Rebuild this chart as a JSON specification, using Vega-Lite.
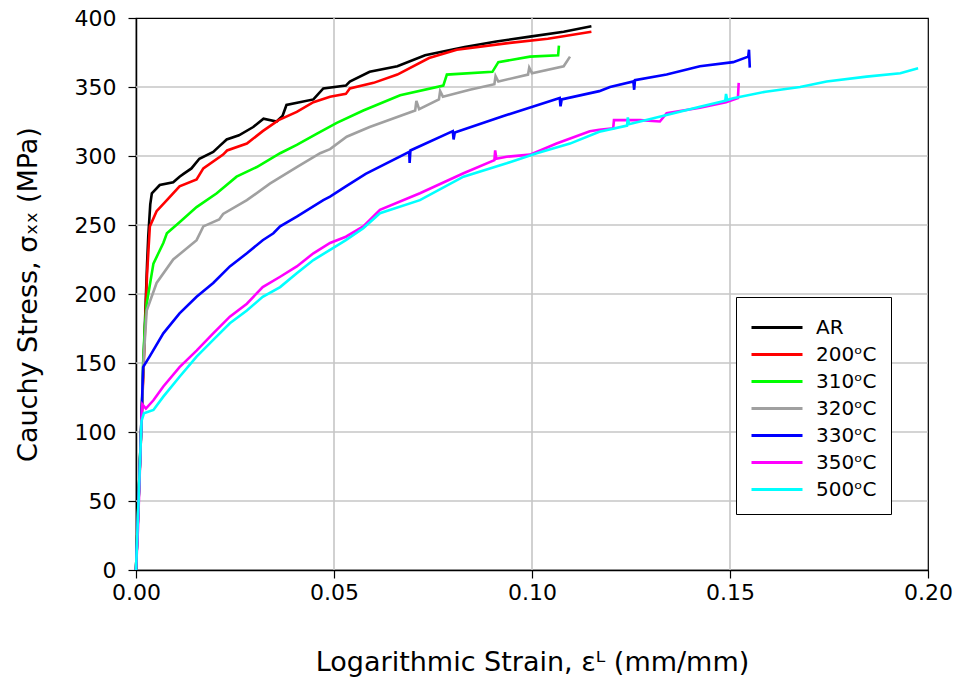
{
  "$schema": "https://vega.github.io/schema/vega-lite/v6.json",
  "width": 792,
  "height": 552,
  "autosize": {"type": "none"},
  "padding": {"left": 136, "top": 18, "right": 29, "bottom": 115},
  "background": "white",
  "config": {
    "font": "DejaVu Sans",
    "view": {"stroke": "#000000", "strokeWidth": 1.2},
    "axis": {
      "grid": false,
      "labelFont": "DejaVu Sans", "labelFontSize": 22, "labelColor": "#000000",
      "titleFont": "DejaVu Sans", "titleFontSize": 27, "titleFontWeight": "normal", "titleColor": "#000000",
      "domainColor": "#000000", "domainWidth": 1.5, "tickColor": "#000000", "tickWidth": 1.2, "tickSize": 8
    },
    "legend": {"labelFont": "DejaVu Sans"}
  },
  "layer": [
    {
      "data": {"values": [{"y": 50}, {"y": 100}, {"y": 150}, {"y": 200}, {"y": 250}, {"y": 300}, {"y": 350}]},
      "mark": {"type": "rule", "color": "#c6c6c6", "strokeWidth": 1.6},
      "encoding": {"y": {"field": "y", "type": "quantitative"}}
    },
    {
      "data": {"values": [{"x": 0.05}, {"x": 0.1}, {"x": 0.15}]},
      "mark": {"type": "rule", "color": "#c6c6c6", "strokeWidth": 1.6},
      "encoding": {"x": {"field": "x", "type": "quantitative"}}
    },
    {
      "data": {"values": [
    {"s":"AR","x":0,"y":0},{"s":"AR","x":0.0015,"y":118},{"s":"AR","x":0.0028,"y":222},{"s":"AR","x":0.0031,"y":242},{"s":"AR","x":0.0036,"y":265},{"s":"AR","x":0.004,"y":273},{"s":"AR","x":0.006,"y":279},{"s":"AR","x":0.0094,"y":281},{"s":"AR","x":0.011,"y":285},{"s":"AR","x":0.012,"y":287},{"s":"AR","x":0.014,"y":291},{"s":"AR","x":0.016,"y":298},{"s":"AR","x":0.0195,"y":303},{"s":"AR","x":0.021,"y":307},{"s":"AR","x":0.0229,"y":312},{"s":"AR","x":0.026,"y":315},{"s":"AR","x":0.0296,"y":321},{"s":"AR","x":0.0322,"y":327},{"s":"AR","x":0.0355,"y":325},{"s":"AR","x":0.037,"y":329},{"s":"AR","x":0.038,"y":337},{"s":"AR","x":0.0448,"y":341},{"s":"AR","x":0.0473,"y":349},{"s":"AR","x":0.053,"y":351},{"s":"AR","x":0.054,"y":354},{"s":"AR","x":0.059,"y":361},{"s":"AR","x":0.066,"y":365},{"s":"AR","x":0.073,"y":373},{"s":"AR","x":0.083,"y":379},{"s":"AR","x":0.091,"y":383},{"s":"AR","x":0.0995,"y":386.5},{"s":"AR","x":0.108,"y":390},{"s":"AR","x":0.115,"y":394},
    {"s":"200ᵒC","x":0,"y":0},{"s":"200ᵒC","x":0.0015,"y":115},{"s":"200ᵒC","x":0.0028,"y":215},{"s":"200ᵒC","x":0.0035,"y":249},{"s":"200ᵒC","x":0.0052,"y":260},{"s":"200ᵒC","x":0.0078,"y":268},{"s":"200ᵒC","x":0.011,"y":278},{"s":"200ᵒC","x":0.0153,"y":283},{"s":"200ᵒC","x":0.017,"y":291},{"s":"200ᵒC","x":0.022,"y":301},{"s":"200ᵒC","x":0.023,"y":304},{"s":"200ᵒC","x":0.028,"y":309},{"s":"200ᵒC","x":0.032,"y":318},{"s":"200ᵒC","x":0.036,"y":326},{"s":"200ᵒC","x":0.0406,"y":332},{"s":"200ᵒC","x":0.0448,"y":339},{"s":"200ᵒC","x":0.049,"y":343},{"s":"200ᵒC","x":0.053,"y":345},{"s":"200ᵒC","x":0.054,"y":349},{"s":"200ᵒC","x":0.06,"y":353},{"s":"200ᵒC","x":0.066,"y":359},{"s":"200ᵒC","x":0.074,"y":371},{"s":"200ᵒC","x":0.081,"y":377},{"s":"200ᵒC","x":0.0944,"y":382},{"s":"200ᵒC","x":0.104,"y":385},{"s":"200ᵒC","x":0.115,"y":390},
    {"s":"310ᵒC","x":0,"y":0},{"s":"310ᵒC","x":0.0015,"y":118},{"s":"310ᵒC","x":0.0018,"y":150},{"s":"310ᵒC","x":0.0022,"y":175},{"s":"310ᵒC","x":0.0027,"y":193},{"s":"310ᵒC","x":0.0044,"y":222},{"s":"310ᵒC","x":0.0069,"y":237},{"s":"310ᵒC","x":0.0078,"y":244},{"s":"310ᵒC","x":0.011,"y":252},{"s":"310ᵒC","x":0.0153,"y":263},{"s":"310ᵒC","x":0.0204,"y":273},{"s":"310ᵒC","x":0.0254,"y":285},{"s":"310ᵒC","x":0.0305,"y":292},{"s":"310ᵒC","x":0.0364,"y":302},{"s":"310ᵒC","x":0.0406,"y":308},{"s":"310ᵒC","x":0.0456,"y":316},{"s":"310ᵒC","x":0.0507,"y":324},{"s":"310ᵒC","x":0.0574,"y":333},{"s":"310ᵒC","x":0.0667,"y":344},{"s":"310ᵒC","x":0.0776,"y":351},{"s":"310ᵒC","x":0.0785,"y":359},{"s":"310ᵒC","x":0.09,"y":361},{"s":"310ᵒC","x":0.0915,"y":368},{"s":"310ᵒC","x":0.0995,"y":372},{"s":"310ᵒC","x":0.1066,"y":373},{"s":"310ᵒC","x":0.1068,"y":380},
    {"s":"320ᵒC","x":0,"y":0},{"s":"320ᵒC","x":0.0015,"y":115},{"s":"320ᵒC","x":0.0018,"y":145},{"s":"320ᵒC","x":0.0022,"y":165},{"s":"320ᵒC","x":0.0027,"y":188},{"s":"320ᵒC","x":0.0052,"y":208},{"s":"320ᵒC","x":0.0094,"y":225},{"s":"320ᵒC","x":0.0153,"y":239},{"s":"320ᵒC","x":0.017,"y":249},{"s":"320ᵒC","x":0.021,"y":254},{"s":"320ᵒC","x":0.022,"y":258},{"s":"320ᵒC","x":0.028,"y":268},{"s":"320ᵒC","x":0.0338,"y":280},{"s":"320ᵒC","x":0.0406,"y":292},{"s":"320ᵒC","x":0.0465,"y":302},{"s":"320ᵒC","x":0.049,"y":305},{"s":"320ᵒC","x":0.0532,"y":314},{"s":"320ᵒC","x":0.059,"y":321},{"s":"320ᵒC","x":0.0705,"y":333},{"s":"320ᵒC","x":0.0708,"y":340},{"s":"320ᵒC","x":0.0715,"y":334},{"s":"320ᵒC","x":0.0765,"y":341},{"s":"320ᵒC","x":0.0768,"y":347},{"s":"320ᵒC","x":0.0775,"y":343},{"s":"320ᵒC","x":0.0843,"y":348},{"s":"320ᵒC","x":0.0905,"y":352},{"s":"320ᵒC","x":0.0908,"y":358},{"s":"320ᵒC","x":0.0915,"y":354},{"s":"320ᵒC","x":0.099,"y":359},{"s":"320ᵒC","x":0.0993,"y":364},{"s":"320ᵒC","x":0.1,"y":360},{"s":"320ᵒC","x":0.108,"y":365},{"s":"320ᵒC","x":0.1096,"y":372},
    {"s":"330ᵒC","x":0,"y":0},{"s":"330ᵒC","x":0.0012,"y":94},{"s":"330ᵒC","x":0.0018,"y":147},{"s":"330ᵒC","x":0.0035,"y":155},{"s":"330ᵒC","x":0.0069,"y":171.5},{"s":"330ᵒC","x":0.011,"y":186},{"s":"330ᵒC","x":0.0153,"y":198},{"s":"330ᵒC","x":0.0195,"y":208},{"s":"330ᵒC","x":0.0237,"y":220},{"s":"330ᵒC","x":0.028,"y":229.5},{"s":"330ᵒC","x":0.032,"y":239},{"s":"330ᵒC","x":0.0347,"y":244},{"s":"330ᵒC","x":0.0364,"y":249},{"s":"330ᵒC","x":0.0406,"y":256},{"s":"330ᵒC","x":0.0473,"y":268},{"s":"330ᵒC","x":0.049,"y":270.5},{"s":"330ᵒC","x":0.053,"y":278},{"s":"330ᵒC","x":0.058,"y":287},{"s":"330ᵒC","x":0.069,"y":303},{"s":"330ᵒC","x":0.0691,"y":295},{"s":"330ᵒC","x":0.0693,"y":304},{"s":"330ᵒC","x":0.08,"y":318},{"s":"330ᵒC","x":0.0802,"y":312},{"s":"330ᵒC","x":0.0805,"y":317},{"s":"330ᵒC","x":0.0928,"y":329},{"s":"330ᵒC","x":0.107,"y":342},{"s":"330ᵒC","x":0.1072,"y":336},{"s":"330ᵒC","x":0.1075,"y":341},{"s":"330ᵒC","x":0.117,"y":347},{"s":"330ᵒC","x":0.1197,"y":350},{"s":"330ᵒC","x":0.1256,"y":354},{"s":"330ᵒC","x":0.1258,"y":348},{"s":"330ᵒC","x":0.126,"y":355},{"s":"330ᵒC","x":0.134,"y":359},{"s":"330ᵒC","x":0.1424,"y":365},{"s":"330ᵒC","x":0.1508,"y":368},{"s":"330ᵒC","x":0.1546,"y":372},{"s":"330ᵒC","x":0.1548,"y":377},{"s":"330ᵒC","x":0.155,"y":364},
    {"s":"350ᵒC","x":0,"y":0},{"s":"350ᵒC","x":0.0005,"y":30},{"s":"350ᵒC","x":0.0014,"y":110},{"s":"350ᵒC","x":0.0016,"y":120},{"s":"350ᵒC","x":0.0025,"y":117},{"s":"350ᵒC","x":0.0044,"y":123},{"s":"350ᵒC","x":0.0069,"y":133},{"s":"350ᵒC","x":0.011,"y":147},{"s":"350ᵒC","x":0.0153,"y":159},{"s":"350ᵒC","x":0.0195,"y":171.5},{"s":"350ᵒC","x":0.0237,"y":183.6},{"s":"350ᵒC","x":0.028,"y":193},{"s":"350ᵒC","x":0.032,"y":205},{"s":"350ᵒC","x":0.0364,"y":212.5},{"s":"350ᵒC","x":0.0406,"y":220},{"s":"350ᵒC","x":0.0448,"y":229.5},{"s":"350ᵒC","x":0.049,"y":237},{"s":"350ᵒC","x":0.053,"y":241.5},{"s":"350ᵒC","x":0.0574,"y":249},{"s":"350ᵒC","x":0.0616,"y":261},{"s":"350ᵒC","x":0.0717,"y":273},{"s":"350ᵒC","x":0.0827,"y":287.5},{"s":"350ᵒC","x":0.0905,"y":297},{"s":"350ᵒC","x":0.0907,"y":304},{"s":"350ᵒC","x":0.091,"y":298},{"s":"350ᵒC","x":0.0936,"y":299.5},{"s":"350ᵒC","x":0.0995,"y":301},{"s":"350ᵒC","x":0.1062,"y":309},{"s":"350ᵒC","x":0.1146,"y":318},{"s":"350ᵒC","x":0.117,"y":319},{"s":"350ᵒC","x":0.1205,"y":320},{"s":"350ᵒC","x":0.1207,"y":326},{"s":"350ᵒC","x":0.1273,"y":326},{"s":"350ᵒC","x":0.1323,"y":325},{"s":"350ᵒC","x":0.134,"y":331},{"s":"350ᵒC","x":0.1424,"y":335},{"s":"350ᵒC","x":0.149,"y":339},{"s":"350ᵒC","x":0.152,"y":342},{"s":"350ᵒC","x":0.1522,"y":353},
    {"s":"500ᵒC","x":0,"y":0},{"s":"500ᵒC","x":0.0014,"y":108},{"s":"500ᵒC","x":0.002,"y":113.5},{"s":"500ᵒC","x":0.0044,"y":116},{"s":"500ᵒC","x":0.0069,"y":125.6},{"s":"500ᵒC","x":0.011,"y":140},{"s":"500ᵒC","x":0.0153,"y":154.6},{"s":"500ᵒC","x":0.0195,"y":166.7},{"s":"500ᵒC","x":0.0237,"y":178.8},{"s":"500ᵒC","x":0.028,"y":188},{"s":"500ᵒC","x":0.032,"y":198},{"s":"500ᵒC","x":0.0364,"y":205},{"s":"500ᵒC","x":0.0406,"y":215},{"s":"500ᵒC","x":0.0448,"y":224.6},{"s":"500ᵒC","x":0.049,"y":232},{"s":"500ᵒC","x":0.053,"y":239},{"s":"500ᵒC","x":0.0574,"y":247.6},{"s":"500ᵒC","x":0.0616,"y":258.5},{"s":"500ᵒC","x":0.0717,"y":268},{"s":"500ᵒC","x":0.0827,"y":285},{"s":"500ᵒC","x":0.0936,"y":294.7},{"s":"500ᵒC","x":0.1012,"y":302},{"s":"500ᵒC","x":0.1096,"y":309},{"s":"500ᵒC","x":0.117,"y":317.6},{"s":"500ᵒC","x":0.124,"y":322},{"s":"500ᵒC","x":0.1242,"y":328},{"s":"500ᵒC","x":0.1245,"y":323},{"s":"500ᵒC","x":0.134,"y":329.7},{"s":"500ᵒC","x":0.1424,"y":335.7},{"s":"500ᵒC","x":0.1488,"y":340},{"s":"500ᵒC","x":0.149,"y":345},{"s":"500ᵒC","x":0.1493,"y":340.5},{"s":"500ᵒC","x":0.1508,"y":341.8},{"s":"500ᵒC","x":0.159,"y":346.6},{"s":"500ᵒC","x":0.1677,"y":350},{"s":"500ᵒC","x":0.1744,"y":354},{"s":"500ᵒC","x":0.1845,"y":357.5},{"s":"500ᵒC","x":0.193,"y":360},{"s":"500ᵒC","x":0.1975,"y":363.5}
      ]},
      "mark": {"type": "line", "strokeWidth": 2.6, "interpolate": "linear"},
      "encoding": {
        "x": {"field": "x", "type": "quantitative",
          "scale": {"domain": [0, 0.2], "nice": false},
          "axis": {"values": [0, 0.05, 0.1, 0.15, 0.2], "format": ".2f", "labelPadding": 4, "labelFlush": false,
            "title": "Logarithmic Strain, εᴸ (mm/mm)", "titleY": 92, "titleBaseline": "middle"}},
        "y": {"field": "y", "type": "quantitative",
          "scale": {"domain": [0, 400], "nice": false},
          "axis": {"values": [0, 50, 100, 150, 200, 250, 300, 350, 400], "labelPadding": 12,
            "title": "Cauchy Stress, σₓₓ (MPa)", "titleX": -108, "titleY": 276, "titleBaseline": "middle"}},
        "color": {"field": "s", "type": "nominal",
          "scale": {"domain": ["AR", "200ᵒC", "310ᵒC", "320ᵒC", "330ᵒC", "350ᵒC", "500ᵒC"],
            "range": ["#000000", "#ff0000", "#00ff00", "#a0a0a0", "#0000ff", "#ff00ff", "#00ffff"]},
          "legend": {"title": null, "orient": "none", "legendX": 600, "legendY": 279,
            "symbolType": "M-1,0H2.4", "symbolSize": 900, "symbolStrokeWidth": 3,
            "labelFontSize": 20, "labelColor": "#000000", "labelOffset": 33, "rowPadding": 0,
            "strokeColor": "#000000", "fillColor": "#ffffff", "padding": 14, "cornerRadius": 0}}
      }
    }
  ]
}
